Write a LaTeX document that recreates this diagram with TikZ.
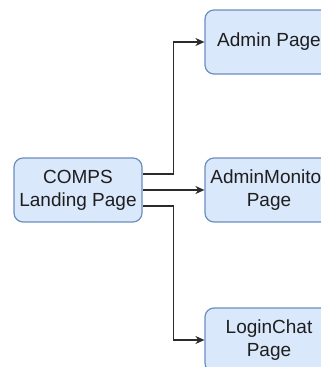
\documentclass[tikz,border=0pt]{standalone}
\usepackage{fontspec}
\setmainfont{Liberation Sans}
\usetikzlibrary{arrows.meta}
\definecolor{boxfill}{HTML}{DAE8FC}
\definecolor{boxline}{HTML}{6C8EBF}
\definecolor{txt}{HTML}{1E1E1E}
\definecolor{wire}{HTML}{2B2B2B}
\tikzset{
  pagebox/.style={draw=boxline, fill=boxfill, line width=1.2pt, rounded corners=9pt,
    minimum width=128pt, minimum height=64pt, inner sep=0pt, align=center,
    text=txt, font=\fontsize{19}{22.8}\selectfont},
  conn/.style={draw=wire, line width=1.3pt, -{Stealth[length=9pt,width=8pt]}},
  plain/.style={draw=wire, line width=1.3pt}
}
\begin{document}
\begin{tikzpicture}[x=1pt,y=-1pt]
\path[use as bounding box] (0,0) rectangle (321,367);
\clip (0,0) rectangle (321,367);
\node[pagebox] (L) at (78,190) {COMPS\\Landing Page};
\node[pagebox] (A) at (269,42) {Admin Page};
\node[pagebox] (M) at (269,190) {AdminMonitor\\Page};
\node[pagebox] (C) at (269,340) {LoginChat\\Page};
\draw[conn] ([yshift=16pt]L.east) -- ++(31pt,0) |- (A.west);
\draw[conn] (L.east) -- (M.west);
\draw[conn] ([yshift=-16pt]L.east) -- ++(31pt,0) |- (C.west);
\end{tikzpicture}
\end{document}
